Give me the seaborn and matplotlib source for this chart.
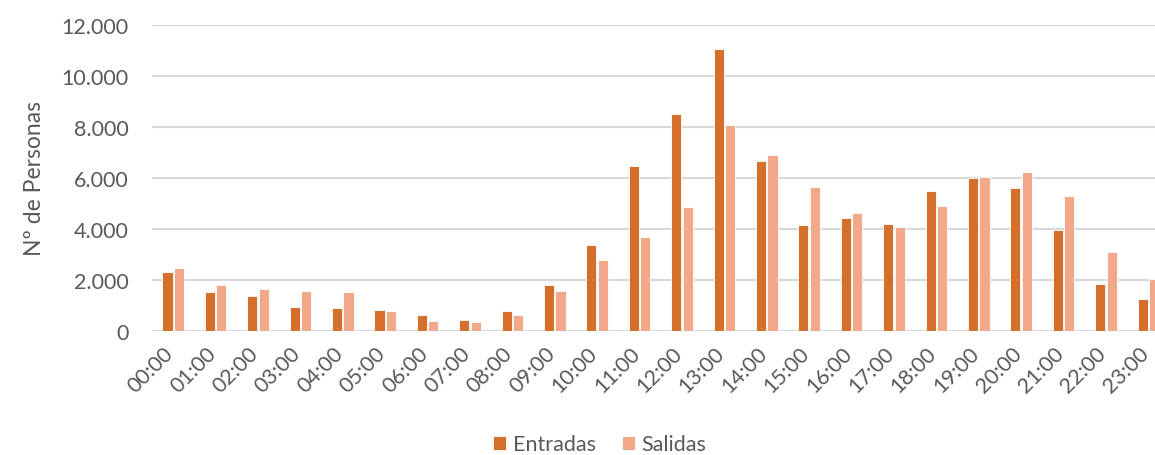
import pandas as pd
import seaborn as sns
import matplotlib.pyplot as plt
from matplotlib.ticker import FuncFormatter
from matplotlib.transforms import ScaledTranslation

# horas del dia y personas por hora
horas = [f"{h:02d}:00" for h in range(24)]
entradas = [2330, 1540, 1370, 940, 890, 820, 630, 420, 770, 1790, 3380, 6470,
            8500, 11060, 6650, 4150, 4420, 4180, 5480, 6000, 5600, 3960, 1850, 1250]
salidas = [2480, 1800, 1650, 1570, 1520, 780, 390, 340, 630, 1560, 2800, 3690,
           4870, 8080, 6900, 5640, 4640, 4080, 4900, 6030, 6240, 5310, 3110, 2030]
series = ["Entradas", "Salidas"]
colores = ["#D4702B", "#F2A98A"]

df = pd.DataFrame({"Hora": horas * 2,
                   "Personas": entradas + salidas,
                   "Tipo": [series[0]] * 24 + [series[1]] * 24})

sns.set_theme(style="white")
plt.rcParams['font.family'] = ['Lato', 'DejaVu Sans']
gris = "#595959"

fig = plt.figure(figsize=(11.55, 4.56), dpi=100)
ax = fig.add_axes([0.1316, 0.272, 0.881, 0.671])

sns.barplot(data=df, x="Hora", y="Personas", hue="Tipo", palette=colores,
            saturation=1, width=0.54, gap=0.12, edgecolor="white",
            linewidth=0.6, ax=ax)

ax.set_ylim(0, 12000)
ax.set_xlim(-0.5, 23.5)
ax.set_yticks(range(0, 12001, 2000))
ax.yaxis.set_major_formatter(FuncFormatter(lambda v, p: f"{int(v):,}".replace(",", ".")))
ax.grid(axis="y", color="#D9D9D9", linewidth=1.5)
ax.set_axisbelow(True)
for s in ax.spines.values():
    s.set_visible(False)

ax.tick_params(axis="y", labelsize=15.5, labelcolor=gris, pad=17, length=0)
ax.tick_params(axis="x", labelsize=15.5, labelcolor=gris, length=0, pad=2)
# desplazar las etiquetas del eje x un poco hacia abajo e izquierda
desplaza = ScaledTranslation(-0.1, -0.09, fig.dpi_scale_trans)
for lab in ax.get_xticklabels():
    lab.set_rotation(45)
    lab.set_ha("right")
    lab.set_rotation_mode("anchor")
    lab.set_transform(lab.get_transform() + desplaza)
ax.set_xlabel("")
ax.set_ylabel("Nº de Personas", fontsize=16.5, color=gris, labelpad=12)

ax.legend(loc="upper center", bbox_to_anchor=(0.44, -0.275), ncol=2, frameon=False,
          fontsize=15.5, labelcolor=gris, handlelength=0.6, handleheight=0.6,
          handletextpad=0.3, columnspacing=1.2)

fig.savefig("out.png", dpi=100)
